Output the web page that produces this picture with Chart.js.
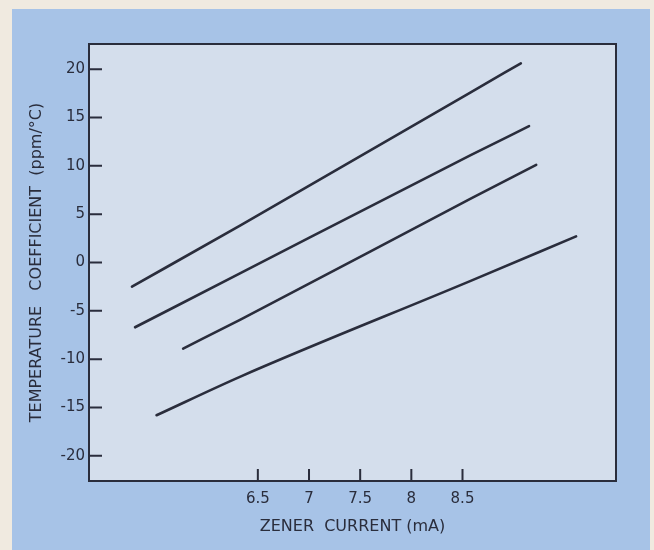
<!DOCTYPE html>
<html>
<head>
<meta charset="utf-8">
<script src="https://cdn.jsdelivr.net/npm/chart.js@4.4.1/dist/chart.umd.min.js"></script>
<style>
  html, body { margin: 0; padding: 0; }
  body { width: 654px; height: 550px; background: #f0eae0; position: relative; overflow: hidden; }
  #panel { position: absolute; left: 12px; top: 9px; width: 638px; height: 541px; background: #a7c3e7; }
  #wrap { position: absolute; left: 0; top: 0; width: 654px; height: 550px; }
</style>
</head>
<body>
<div id="panel"></div>
<div id="wrap"><canvas id="chart"></canvas></div>
<script>
'use strict';

// zener current (mA) and temp coefficient (ppm/°C) for each curve
var curve1Current = [5.27, 6.33, 8.58, 9.07];
var curve1Coeff   = [-2.5, 3.85, 17.6, 20.6];
var curve2Current = [5.30, 6.33, 8.58, 9.15];
var curve2Coeff   = [-6.7, -1.1, 11.1, 14.1];
var curve3Current = [5.77, 6.33, 8.58, 9.22];
var curve3Coeff   = [-8.9, -5.9, 6.6, 10.1];
var curve4Current = [5.51, 6.33, 8.58, 9.61];
var curve4Coeff   = [-15.8, -11.8, -1.9, 2.7];

var xTicks = [6.5, 7, 7.5, 8, 8.5];
var yTicks = [-20, -15, -10, -5, 0, 5, 10, 15, 20];

var ink = '#2a2d3c';
var plotBg = '#d4deec';
var labelFont = { family: 'DejaVu Sans', size: 15 };
var titleFont = { family: 'DejaVu Sans', size: 16 };

function pts(xs, ys) {
  return xs.map(function (x, i) { return {x: x, y: ys[i]}; });
}

function makeSet(xs, ys) {
  return {
    data: pts(xs, ys),
    borderColor: ink,
    borderWidth: 2.6,
    borderCapStyle: 'round',
    pointRadius: 0,
    cubicInterpolationMode: 'monotone',
    fill: false
  };
}

// plot background, box and inward tick marks
var frame = {
  id: 'frame',
  beforeDraw: function (chart) {
    var ctx = chart.ctx, a = chart.chartArea;
    ctx.save();
    ctx.fillStyle = plotBg;
    ctx.fillRect(a.left, a.top, a.right - a.left, a.bottom - a.top);
    ctx.restore();
  },
  afterDraw: function (chart) {
    var ctx = chart.ctx, a = chart.chartArea;
    ctx.save();
    ctx.strokeStyle = ink;
    ctx.lineWidth = 2;
    ctx.strokeRect(a.left, a.top, a.right - a.left, a.bottom - a.top);
    ctx.beginPath();
    chart.scales.y.ticks.forEach(function (t) {
      var p = chart.scales.y.getPixelForValue(t.value);
      ctx.moveTo(a.left, p);
      ctx.lineTo(a.left + 13, p);
    });
    chart.scales.x.ticks.forEach(function (t) {
      var p = chart.scales.x.getPixelForValue(t.value);
      ctx.moveTo(p, a.bottom);
      ctx.lineTo(p, a.bottom - 12);
    });
    ctx.stroke();
    ctx.restore();
  }
};

var ctx = document.getElementById('chart').getContext('2d');
var chart = new Chart(ctx, {
  type: 'line',
  data: {
    datasets: [
      makeSet(curve1Current, curve1Coeff),
      makeSet(curve2Current, curve2Coeff),
      makeSet(curve3Current, curve3Coeff),
      makeSet(curve4Current, curve4Coeff)
    ]
  },
  options: {
    responsive: true,
    maintainAspectRatio: false,
    animation: false,
    layout: { padding: { top: 44, right: 38, left: 0, bottom: 0 } },
    plugins: { legend: { display: false }, tooltip: { enabled: false } },
    scales: {
      x: {
        type: 'linear',
        min: 4.85,
        max: 10,
        afterBuildTicks: function (s) { s.ticks = xTicks.map(function (v) { return {value: v}; }); },
        afterFit: function (s) { s.height = 69; },
        grid: { display: false, drawTicks: false },
        border: { display: false },
        ticks: {
          color: ink,
          padding: 9,
          maxRotation: 0,
          font: labelFont,
          callback: function (v) { return String(v); }
        },
        title: {
          display: true,
          text: 'ZENER  CURRENT (mA)',
          color: ink,
          font: titleFont,
          padding: { top: 0, bottom: 14 }
        }
      },
      y: {
        min: -22.6,
        max: 22.6,
        afterBuildTicks: function (s) { s.ticks = yTicks.map(function (v) { return {value: v}; }); },
        afterFit: function (s) { s.width = 89; },
        grid: { display: false, drawTicks: false },
        border: { display: false },
        ticks: {
          color: ink,
          padding: 4,
          font: labelFont,
          callback: function (v) { return String(v); }
        },
        title: {
          display: true,
          text: 'TEMPERATURE   COEFFICIENT  (ppm/°C)',
          color: ink,
          font: titleFont,
          padding: { top: 27, bottom: 0 }
        }
      }
    }
  },
  plugins: [frame]
});
</script>
</body>
</html>
